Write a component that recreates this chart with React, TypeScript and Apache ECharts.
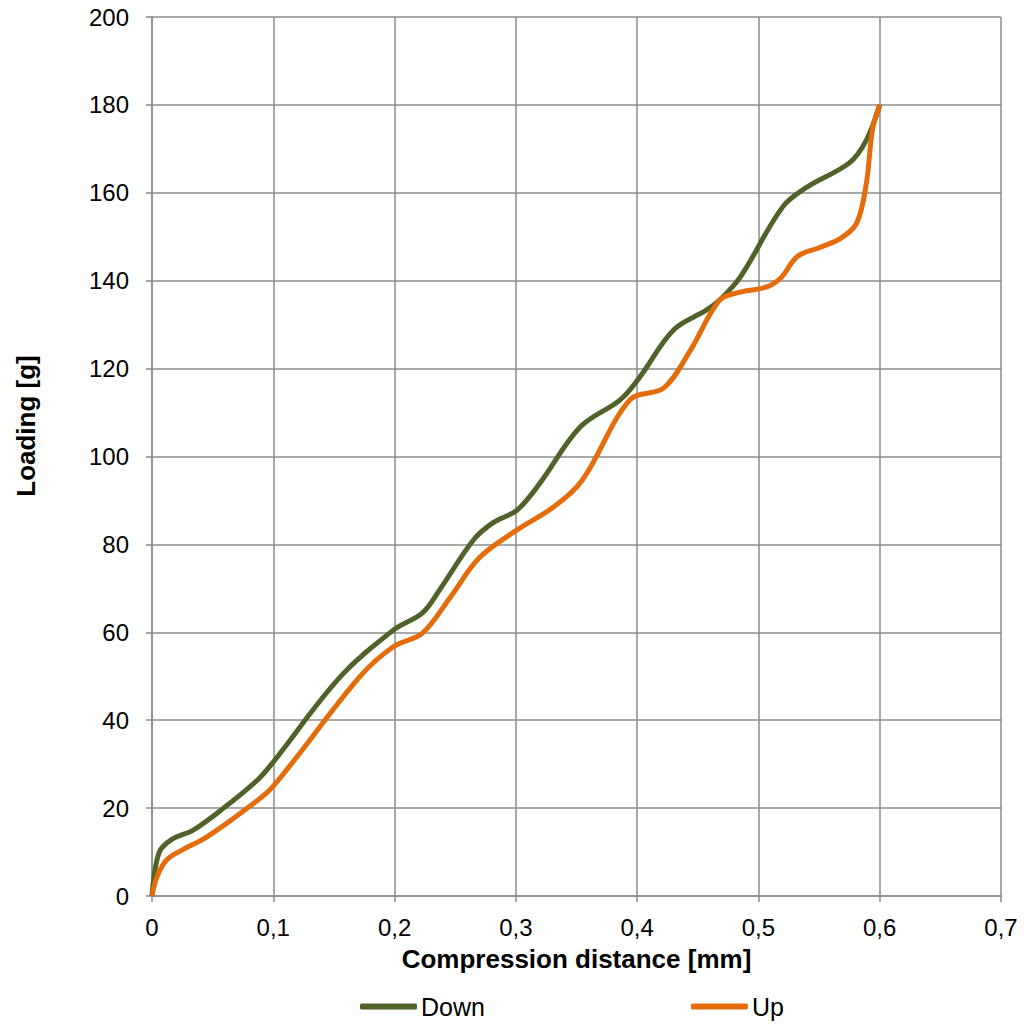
import React, { useEffect, useRef } from "react";
import * as echarts from "echarts";

const downData: [number, number][] = [
  [0, 0], [0.006, 10], [0.017, 13], [0.034, 15], [0.059, 20], [0.087, 26.4], [0.1, 30.5],
  [0.155, 49.8], [0.199, 60.5], [0.223, 64.4], [0.237, 69.6], [0.265, 81], [0.281, 84.9],
  [0.301, 87.8], [0.32, 94], [0.353, 106.7], [0.386, 112.9], [0.402, 118], [0.43, 128.8],
  [0.457, 133.3], [0.468, 135.6], [0.485, 140.8], [0.52, 156.8], [0.54, 161.3],
  [0.575, 166.8], [0.589, 172], [0.6, 180],
];

const upData: [number, number][] = [
  [0, 0], [0.004, 4.3], [0.012, 8.2], [0.025, 10.5], [0.045, 13.4], [0.08, 20.3], [0.1, 25],
  [0.171, 49.8], [0.199, 56.7], [0.223, 59.8], [0.246, 68], [0.27, 77], [0.301, 83.3],
  [0.331, 88.5], [0.355, 94.7], [0.394, 112.9], [0.422, 115.6], [0.444, 124.2],
  [0.468, 135.6], [0.485, 137.4], [0.507, 138.6], [0.519, 140.8], [0.532, 145.5],
  [0.55, 147.5], [0.567, 149.5], [0.581, 153.1], [0.589, 162.2], [0.594, 174.3], [0.6, 180],
];

const seriesNames = ["Down", "Up"];
const seriesColors = ["#4F6228", "#E46C0A"];
const xTitle = "Compression distance [mm]";
const yTitle = "Loading [g]";

export default function App() {
  const ref = useRef<HTMLDivElement>(null);
  useEffect(() => {
    if (!ref.current) return;
    const chart = echarts.init(ref.current, null, { renderer: "svg" });
    const font = "Liberation Sans, Arial, sans-serif";
    const gridColor = "#8c8c8c";
    chart.setOption({
      animation: false,
      textStyle: { fontFamily: font },
      grid: { left: 152, top: 17, right: 23, bottom: 129, containLabel: false },
      legend: {
        left: 355,
        top: 989,
        itemGap: 206,
        itemWidth: 57,
        itemHeight: 6,
        icon: "roundRect",
        textStyle: { fontSize: 25, color: "#000", fontFamily: font, padding: [0, 0, 0, -1] },
        data: seriesNames,
      },
      graphic: [
        {
          type: "text",
          x: 26,
          y: 426,
          rotation: Math.PI / 2,
          style: {
            text: yTitle,
            fontSize: 26,
            fontWeight: "bold",
            fontFamily: font,
            fill: "#000",
            align: "center",
            verticalAlign: "middle",
          },
        },
      ],
      xAxis: {
        type: "value",
        min: 0,
        max: 0.7,
        interval: 0.1,
        name: xTitle,
        nameLocation: "middle",
        nameGap: 50,
        nameTextStyle: { fontSize: 26, fontWeight: "bold", color: "#000", fontFamily: font },
        axisLine: { show: true, onZero: false, lineStyle: { color: gridColor, width: 1.5 } },
        axisTick: { show: true, inside: false, length: 6, lineStyle: { color: gridColor, width: 1.5 } },
        axisLabel: {
          fontSize: 24,
          color: "#000",
          margin: 19,
          fontFamily: font,
          formatter: (v: number) => String(Math.round(v * 10) / 10).replace(".", ","),
        },
        splitLine: { show: true, lineStyle: { color: gridColor, width: 1.5 } },
      },
      yAxis: {
        type: "value",
        min: 0,
        max: 200,
        interval: 20,
        axisLine: { show: true, lineStyle: { color: gridColor, width: 1.5 } },
        axisTick: { show: true, inside: false, length: 6, lineStyle: { color: gridColor, width: 1.5 } },
        axisLabel: { fontSize: 24, color: "#000", margin: 23, fontFamily: font },
        splitLine: { show: true, lineStyle: { color: gridColor, width: 1.5 } },
      },
      series: [
        {
          name: seriesNames[0],
          type: "line",
          data: downData,
          smooth: 0.35,
          showSymbol: false,
          symbol: "none",
          lineStyle: { color: seriesColors[0], width: 5 },
          itemStyle: { color: seriesColors[0] },
          z: 3,
        },
        {
          name: seriesNames[1],
          type: "line",
          data: upData,
          smooth: 0.35,
          showSymbol: false,
          symbol: "none",
          lineStyle: { color: seriesColors[1], width: 5 },
          itemStyle: { color: seriesColors[1] },
          z: 4,
        },
      ],
    });
    return () => chart.dispose();
  }, []);
  return (
    <div
      ref={ref}
      style={{ position: "absolute", left: 0, top: 0, width: 1024, height: 1025 }}
    />
  );
}
